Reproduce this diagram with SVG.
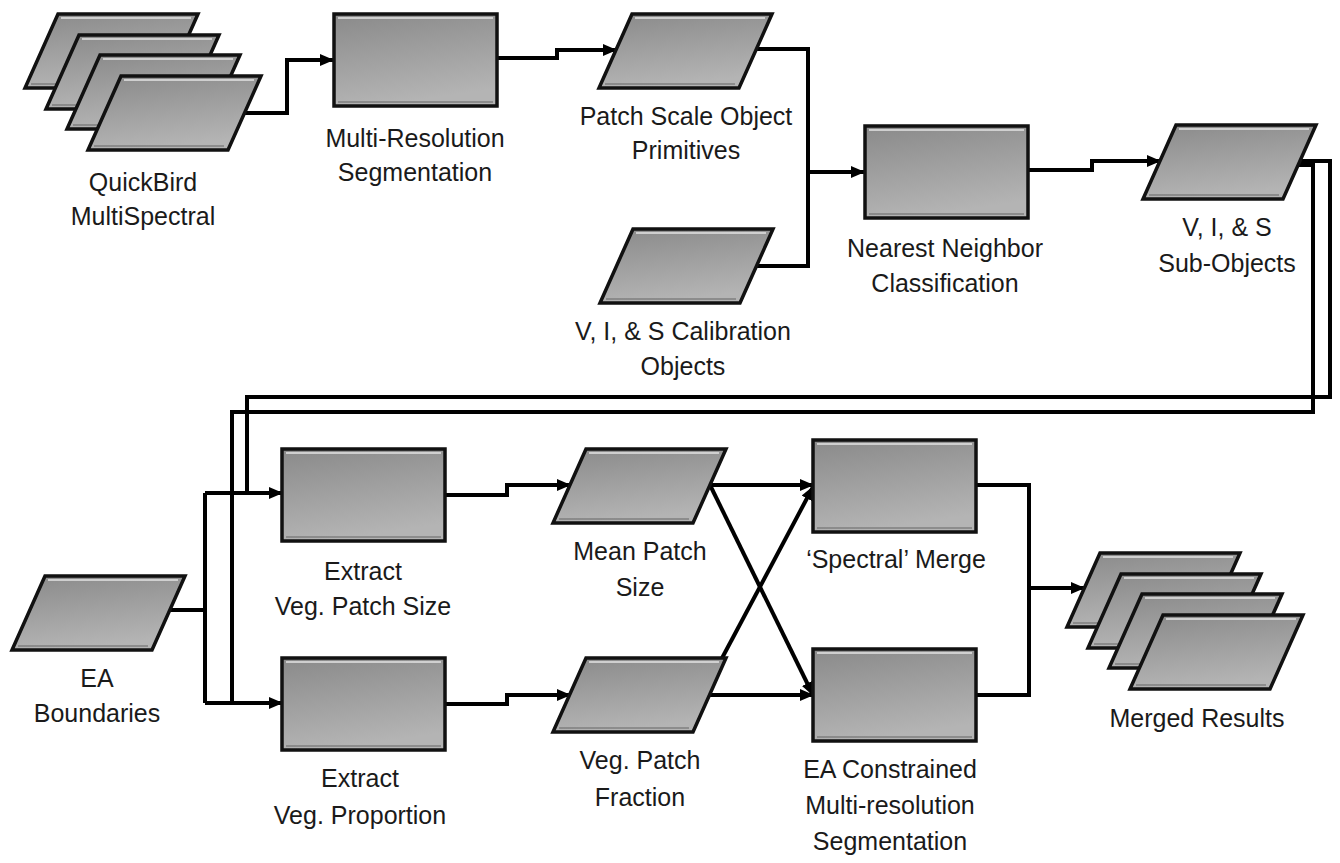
<svg xmlns="http://www.w3.org/2000/svg" xmlns:xlink="http://www.w3.org/1999/xlink" width="1340" height="863" viewBox="0 0 1340 863">
<style>
.lbl{font-family:"Liberation Sans",Arial,Helvetica,sans-serif;font-size:25px;fill:#1a1a1a;text-anchor:middle}
.shape{fill:url(#gfill);stroke:#111;stroke-width:3.5;stroke-linejoin:miter}
.hl{fill:none;stroke:#d6d6d6;stroke-width:2;stroke-opacity:0.9}
.sh{fill:none;stroke:#6a6a6a;stroke-width:1.5;stroke-opacity:0.7}
.wire{fill:none;stroke:#000;stroke-width:4;stroke-linejoin:miter}
.arr{marker-end:url(#ah)}
</style>
<defs>
<linearGradient id="gfill" x1="0" y1="0" x2="0.25" y2="1">
<stop offset="0" stop-color="#8a8a8a"/>
<stop offset="1" stop-color="#b4b4b4"/>
</linearGradient>
<marker id="ah" viewBox="0 0 14 12" refX="13" refY="6" markerWidth="14" markerHeight="12" markerUnits="userSpaceOnUse" orient="auto">
<path d="M0,0 L14,6 L0,12 Z" fill="#000"/>
</marker>
<g id="para">
<path class="shape" d="M33,0 H173 L140,74 H0 Z"/>
<path class="hl" d="M36,4 H166"/>
<path class="sh" d="M6,70 H136"/>
</g>
<g id="box">
<rect class="shape" x="0" y="0" width="163" height="92"/>
<path class="hl" d="M4,4 H159"/>
<path class="sh" d="M4,88 H159"/>
</g>
</defs>
<rect x="0" y="0" width="1340" height="863" fill="#fff"/>

<g id="connectors">
<path class="wire arr" d="M244,113 H287 V60 H333"/>
<path class="wire arr" d="M497,58 H557 V50 H616"/>
<path class="wire" d="M757,49 H808 V266 H756"/>
<path class="wire arr" d="M808,172 H864"/>
<path class="wire arr" d="M1028,170 H1092 V161 H1160"/>
<path class="wire" d="M1299,161 H1330 V397 H247 V493"/>
<path class="wire" d="M1297,165 H1313 V412 H232 V703"/>
<path class="wire" d="M170,610 H205"/>
<path class="wire" d="M205,493 V703"/>
<path class="wire arr" d="M205,493 H282"/>
<path class="wire arr" d="M205,703 H282"/>
<path class="wire arr" d="M445,495 H507 V485 H570"/>
<path class="wire arr" d="M445,704 H507 V695 H570"/>
<path class="wire arr" d="M710,485 H813"/>
<path class="wire arr" d="M710,485 L813,695"/>
<path class="wire arr" d="M721,660 L813,487"/>
<path class="wire arr" d="M709,695 H813"/>
<path class="wire" d="M976,485 H1029 V695 H976"/>
<path class="wire arr" d="M1029,588 H1084"/>
</g>

<g id="n-quickbird">
<use xlink:href="#para" x="25" y="14"/>
<use xlink:href="#para" x="46" y="35"/>
<use xlink:href="#para" x="67" y="55"/>
<use xlink:href="#para" x="88" y="76"/>
<text class="lbl" x="143" y="191">QuickBird</text>
<text class="lbl" x="143" y="225">MultiSpectral</text>
</g>

<g id="n-multires">
<use xlink:href="#box" x="334" y="14"/>
<text class="lbl" x="415" y="147">Multi-Resolution</text>
<text class="lbl" x="415" y="181">Segmentation</text>
</g>

<g id="n-patchscale">
<use xlink:href="#para" x="599" y="14"/>
<text class="lbl" x="686" y="125">Patch Scale Object</text>
<text class="lbl" x="686" y="159">Primitives</text>
</g>

<g id="n-calibration">
<use xlink:href="#para" x="600" y="229"/>
<text class="lbl" x="683" y="340">V, I, &amp; S Calibration</text>
<text class="lbl" x="683" y="375">Objects</text>
</g>

<g id="n-nearest">
<use xlink:href="#box" x="865" y="126"/>
<text class="lbl" x="945" y="257">Nearest Neighbor</text>
<text class="lbl" x="945" y="292">Classification</text>
</g>

<g id="n-subobjects">
<use xlink:href="#para" x="1143" y="125"/>
<text class="lbl" x="1227" y="236">V, I, &amp; S</text>
<text class="lbl" x="1227" y="272">Sub-Objects</text>
</g>

<g id="n-ea">
<use xlink:href="#para" x="12" y="576"/>
<text class="lbl" x="97" y="687">EA</text>
<text class="lbl" x="97" y="722">Boundaries</text>
</g>

<g id="n-extract-size">
<use xlink:href="#box" x="282" y="449"/>
<text class="lbl" x="363" y="580">Extract</text>
<text class="lbl" x="363" y="615">Veg. Patch Size</text>
</g>

<g id="n-extract-prop">
<use xlink:href="#box" x="282" y="658"/>
<text class="lbl" x="360" y="787">Extract</text>
<text class="lbl" x="360" y="824">Veg. Proportion</text>
</g>

<g id="n-meanpatch">
<use xlink:href="#para" x="553" y="449"/>
<text class="lbl" x="640" y="560">Mean Patch</text>
<text class="lbl" x="640" y="596">Size</text>
</g>

<g id="n-fraction">
<use xlink:href="#para" x="553" y="658"/>
<text class="lbl" x="640" y="769">Veg. Patch</text>
<text class="lbl" x="640" y="806">Fraction</text>
</g>

<g id="n-spectral">
<use xlink:href="#box" x="813" y="440"/>
<text class="lbl" x="896" y="568">‘Spectral’ Merge</text>
</g>

<g id="n-eaconstrained">
<use xlink:href="#box" x="813" y="649"/>
<text class="lbl" x="890" y="778">EA Constrained</text>
<text class="lbl" x="890" y="814">Multi-resolution</text>
<text class="lbl" x="890" y="850">Segmentation</text>
</g>

<g id="n-merged">
<use xlink:href="#para" x="1067" y="553"/>
<use xlink:href="#para" x="1088" y="574"/>
<use xlink:href="#para" x="1109" y="594"/>
<use xlink:href="#para" x="1130" y="615"/>
<text class="lbl" x="1197" y="727">Merged Results</text>
</g>
</svg>
